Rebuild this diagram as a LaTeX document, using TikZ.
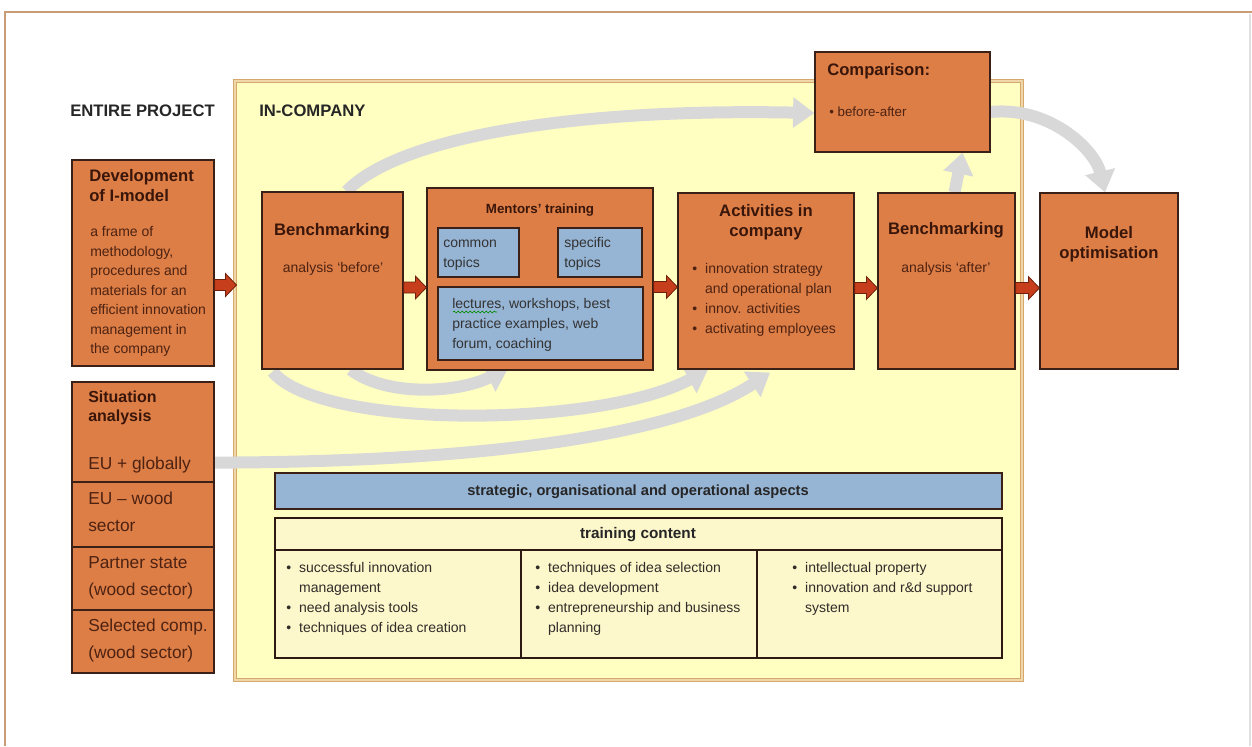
\documentclass[tikz,border=0pt]{standalone}
\usepackage{fontspec}
\setmainfont{Liberation Sans}
\usetikzlibrary{arrows.meta,calc,fit,decorations.pathmorphing}
\definecolor{orng}{RGB}{220,126,70}
\definecolor{boxdark}{RGB}{58,32,22}
\definecolor{ttlc}{RGB}{58,22,10}
\definecolor{bodc}{RGB}{78,34,18}
\definecolor{bluef}{RGB}{150,180,212}
\definecolor{yelf}{RGB}{255,255,194}
\definecolor{tanc}{RGB}{214,168,108}
\definecolor{tanl}{RGB}{240,215,170}
\definecolor{creamf}{RGB}{253,247,204}
\definecolor{greyc}{RGB}{216,216,216}
\definecolor{arrred}{RGB}{198,62,28}
\definecolor{arrdark}{RGB}{110,32,12}
\definecolor{framec}{RGB}{200,156,118}
\definecolor{tabtxt}{RGB}{48,44,40}
\pgfdeclarelayer{bg}
\pgfdeclarelayer{arr}
\pgfsetlayers{bg,arr,main}
\newcommand\mybul{\textbullet}
\newcommand\blockarr[2]{%
  \filldraw[fill=arrred, draw=arrdark, line width=0.6pt]
    ($(#1)+(0,-5.5)$) -- ($(#2)+(-11,-5.5)$) -- ($(#2)+(-11,-11.5)$) -- (#2)
    -- ($(#2)+(-11,11.5)$) -- ($(#2)+(-11,5.5)$) -- ($(#1)+(0,5.5)$) -- cycle;}
\begin{document}
\begin{tikzpicture}[x=0.75pt,y=-0.75pt,
  obox/.style={draw=boxdark, fill=orng, line width=0.9pt, inner sep=0pt},
  bbox/.style={draw=boxdark, fill=bluef, line width=0.9pt, inner sep=0pt},
  cbox/.style={draw=boxdark!80!black, fill=creamf, line width=0.8pt, inner sep=0pt},
  ttl/.style={font=\fontsize{12.5}{15}\selectfont\bfseries, text=ttlc, inner sep=0pt},
  bod/.style={font=\fontsize{10.5}{15}\selectfont, text=bodc, inner sep=0pt},
  sitt/.style={font=\fontsize{13}{20}\selectfont, text=bodc, inner sep=0pt},
  tabt/.style={font=\fontsize{10.5}{15}\selectfont, text=tabtxt, inner sep=0pt},
  grarr/.style={draw=greyc, line width=9pt, -{Triangle[length=16pt,width=22pt]}},
]
\useasboundingbox (0,0) rectangle (1252,746);
\begin{pgfonlayer}{bg}
\fill[white] (0,0) rectangle (1252,746);
\node[fit={(235,81) (1022,680)}, inner sep=0pt, fill=yelf, draw=tanc, double=tanl, double distance=1pt, line width=0.8pt] (inco) {};
\end{pgfonlayer}
% outer frame
\draw[framec, line width=2.2pt] (5,746) -- (5,12) -- (1252,12);
\draw[black!12, line width=0.8pt] (1250,14) -- (1250,746);

\node[font=\fontsize{12.5}{15}\selectfont\bfseries, text=black!85, inner sep=0pt, anchor=base west] (lentire) at (70,116) {ENTIRE PROJECT};
\node[font=\fontsize{12.5}{15}\selectfont\bfseries, text=black!85, inner sep=0pt, anchor=base west] (linco) at (259,116) {IN-COMPANY};

% boxes
\node[obox, fit={(72,160) (214,366)}] (dev) {};
\node[ttl, anchor=north west] (devt) at (89,167) {\begin{tabular}{@{}l@{}}Development\\of I-model\end{tabular}};
\node[bod, anchor=north west, font=\fontsize{10.5}{14.6}\selectfont] (devb) at (90,223) {\begin{tabular}{@{}l@{}}a frame of\\methodology,\\procedures and\\materials for an\\efficient innovation\\management in\\the company\end{tabular}};

\node[obox, fit={(72,382) (214,482)}] (sit1) {};
\node[obox, fit={(72,482) (214,547)}] (sit2) {};
\node[obox, fit={(72,547) (214,610)}] (sit3) {};
\node[obox, fit={(72,610) (214,673)}] (sit4) {};
\node[ttl, font=\fontsize{12}{14.25}\selectfont\bfseries, anchor=north west] (sitt) at (88,389) {\begin{tabular}{@{}l@{}}Situation\\analysis\end{tabular}};
\node[sitt, anchor=base west] (s1t) at (88,469) {EU + globally};
\node[sitt, anchor=north west] (s2t) at (88,485.5) {\begin{tabular}{@{}l@{}}EU \textendash\ wood\\sector\end{tabular}};
\node[sitt, anchor=north west] (s3t) at (88,549.5) {\begin{tabular}{@{}l@{}}Partner state\\(wood sector)\end{tabular}};
\node[sitt, anchor=north west] (s4t) at (88,612.5) {\begin{tabular}{@{}l@{}}Selected comp.\\(wood sector)\end{tabular}};

\node[obox, fit={(262,192) (403,369)}] (bench1) {};
\node[ttl, anchor=base] (b1t) at (332,235) {Benchmarking};
\node[bod, anchor=base] (b1b) at (333,272) {analysis `before'};

\node[obox, fit={(427,188) (653,370)}] (mentors) {};
\node[ttl, font=\fontsize{10}{12}\selectfont\bfseries, anchor=base] (mt) at (540,213) {Mentors' training};
\node[bbox, fit={(438,228) (519,277)}] (common) {};
\node[bbox, fit={(558,228) (642,277)}] (specific) {};
\node[bbox, fit={(438,287) (643,360)}] (lect) {};
\node[bod, text=black!80, anchor=north west] (ct) at (443,233) {\begin{tabular}{@{}l@{}}common\\topics\end{tabular}};
\node[bod, text=black!80, anchor=north west] (st) at (564,233) {\begin{tabular}{@{}l@{}}specific\\topics\end{tabular}};
\node[bod, text=black!80, anchor=north west] (lt) at (452,294) {\begin{tabular}{@{}l@{}}lectures, workshops, best\\practice examples, web\\forum, coaching\end{tabular}};
\draw[green!55!black, line width=0.5pt, decorate, decoration={snake, amplitude=0.7pt, segment length=3pt}] (453,312) -- (497,312);

\node[obox, fit={(678,193) (854,369)}] (act) {};
\node[ttl, anchor=north] (at) at (766,202) {\begin{tabular}{@{}c@{}}Activities in\\company\end{tabular}};
\node[bod, anchor=north west] (ab) at (692,259) {\begin{tabular}{@{}l@{\hspace{6pt}}l@{}}\mybul & innovation strategy\\ & and operational plan\\ \mybul & innov. activities\\ \mybul & activating employees\end{tabular}};

\node[obox, fit={(878,193) (1015,369)}] (bench2) {};
\node[ttl, anchor=base] (b2t) at (946,234) {Benchmarking};
\node[bod, anchor=base] (b2b) at (946,272) {analysis `after'};

\node[obox, fit={(1040,193) (1178,369)}] (model) {};
\node[ttl, anchor=north] (mot) at (1109,224) {\begin{tabular}{@{}c@{}}Model\\optimisation\end{tabular}};

\node[obox, fit={(815,52) (990,152)}] (comp) {};
\node[ttl, anchor=base west] (cpt) at (827,75) {Comparison:};
\node[bod, font=\fontsize{10}{12}\selectfont, anchor=base west] (cpb) at (829,116) {\mybul\ before-after};

% table
\node[bbox, fit={(275,473) (1002,509)}] (strat) {};
\node[font=\fontsize{11}{13}\selectfont\bfseries, text=black!85, inner sep=0pt, anchor=base] (stt) at (638,495) {strategic, organisational and operational aspects};
\node[cbox, fit={(275,518) (1002,550)}] (tchead) {};
\node[font=\fontsize{11.5}{13}\selectfont\bfseries, text=black!85, inner sep=0pt, anchor=base] (tct) at (638,538) {training content};
\node[cbox, fit={(275,550) (521,658)}] (tc1) {};
\node[cbox, fit={(521,550) (757,658)}] (tc2) {};
\node[cbox, fit={(757,550) (1002,658)}] (tc3) {};
\node[tabt, anchor=north west] (tc1t) at (286,558) {\begin{tabular}{@{}l@{\hspace{6pt}}l@{}}\mybul & successful innovation\\ & management\\ \mybul & need analysis tools\\ \mybul & techniques of idea creation\end{tabular}};
\node[tabt, anchor=north west] (tc2t) at (535,558) {\begin{tabular}{@{}l@{\hspace{6pt}}l@{}}\mybul & techniques of idea selection\\ \mybul & idea development\\ \mybul & entrepreneurship and business\\ & planning\end{tabular}};
\node[tabt, anchor=north west] (tc3t) at (792,558) {\begin{tabular}{@{}l@{\hspace{6pt}}l@{}}\mybul & intellectual property\\ \mybul & innovation and r\&d support\\ & system\end{tabular}};

% grey arrows
\begin{pgfonlayer}{arr}
\draw[grarr] ($(bench1.north)+(14,0)$) .. controls (395,140) and (560,108) .. ($(comp.west)+(0,11)$);
\draw[grarr] ($(bench1.south)+(18,0)$) .. controls (385,396) and (455,394) .. ($(mentors.south)+(-32,-2)$);
\draw[grarr] ($(bench1.south)+(-60,2)$) .. controls (320,430) and (600,428) .. ($(act.south)+(-58,0)$);
\draw[grarr] ($(sit1.south east)+(0,-20)$) .. controls (500,462) and (680,432) .. ($(act.south)+(4,3)$);
\draw[grarr] ($(bench2.north)+(8,0)$) -- ($(comp.south)+(60,0)$);
\draw[grarr] ($(comp.east)+(0,10)$) .. controls (1050,106) and (1095,150) .. ($(model.north)+(-4,0)$);
\end{pgfonlayer}

% red block arrows
\coordinate (r1a) at ($(dev.east)+(0,22)$);
\coordinate (r1b) at ($(inco.west |- r1a)+(2,0)$);
\coordinate (r2a) at ($(bench1.east)+(0,7)$);
\coordinate (r2b) at (mentors.west |- r2a);
\coordinate (r3a) at ($(mentors.east)+(0,8)$);
\coordinate (r3b) at (act.west |- r3a);
\coordinate (r4a) at ($(act.east)+(0,7)$);
\coordinate (r4b) at (bench2.west |- r4a);
\coordinate (r5a) at ($(bench2.east)+(0,7)$);
\coordinate (r5b) at (model.west |- r5a);
\blockarr{r1a}{r1b}
\blockarr{r2a}{r2b}
\blockarr{r3a}{r3b}
\blockarr{r4a}{r4b}
\blockarr{r5a}{r5b}
\end{tikzpicture}
\end{document}
